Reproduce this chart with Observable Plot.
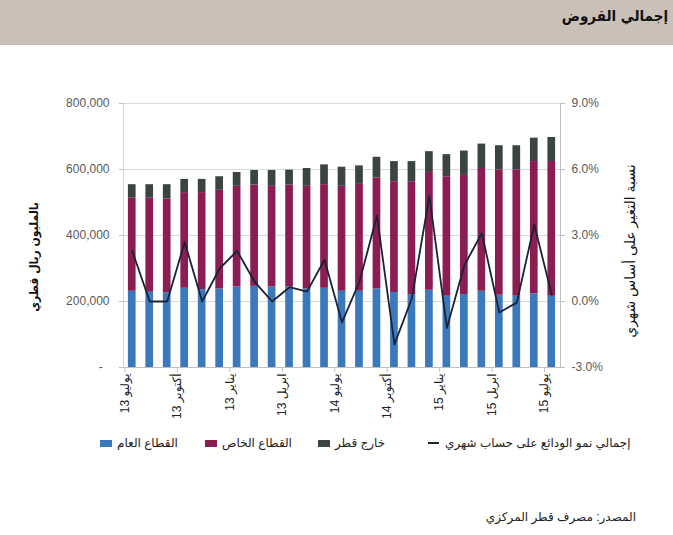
<!DOCTYPE html>
<html><head><meta charset="utf-8">
<script src="https://cdn.jsdelivr.net/npm/d3@7"></script>
<script src="https://cdn.jsdelivr.net/npm/@observablehq/plot@0.6"></script>
<style>
body{margin:0;background:#fff;font-family:"Liberation Sans",Arial,"DejaVu Sans",sans-serif;}
#page{position:relative;width:673px;height:535px;overflow:hidden;background:#fff;}
#banner{position:absolute;left:0;top:0;width:673px;height:45px;background:#c9c0b8;}
#title{position:absolute;right:5px;top:7px;font-weight:bold;font-size:15px;color:#111;direction:rtl;white-space:nowrap;font-family:'DejaVu Sans Condensed','DejaVu Sans',sans-serif;}
#chart{position:absolute;left:0;top:45px;}
.ytitle{position:absolute;white-space:nowrap;transform:translate(-50%,-50%) rotate(-90deg);direction:rtl;color:#111;}
.leg{position:absolute;top:436px;height:14px;display:flex;align-items:center;font-size:12px;color:#222;white-space:nowrap;}
.sw{display:inline-block;width:12px;height:7px;margin-right:5px;}
.ln{display:inline-block;width:11px;height:2px;margin-right:6px;}
#source{position:absolute;right:37px;top:510px;font-size:12px;color:#222;direction:rtl;white-space:nowrap;}
</style>
</head><body>
<div id="page">
  <div id="banner"><div id="title"></div></div>
  <div id="chart"></div>
  <div id="ytl" class="ytitle" style="left:34px;top:257px;font-size:12px;font-weight:bold;font-family:'DejaVu Sans Condensed','DejaVu Sans',sans-serif;"></div>
  <div id="ytr" class="ytitle" style="left:630px;top:251px;font-size:14px;"></div>
  <div id="legend"></div>
  <div id="source"></div>
</div>
<script>
// ---- data ----
const months = ["2013-07","2013-08","2013-09","2013-10","2013-11","2013-12","2014-01","2014-02","2014-03","2014-04","2014-05","2014-06","2014-07","2014-08","2014-09","2014-10","2014-11","2014-12","2015-01","2015-02","2015-03","2015-04","2015-05","2015-06","2015-07"];
const publicSector  = [231000,228000,226000,240000,236000,238000,244000,246000,244000,244000,238000,240000,231000,231000,238000,227000,221000,234000,216000,221000,231000,219000,216000,223000,216000];
const privateSector = [282000,285000,285000,290000,294000,299000,305000,307000,305000,309000,311000,314000,318000,324000,336000,336000,342000,357000,362000,361000,372000,380000,383000,401000,408000];
const outsideQatar  = [41000,41000,43000,40000,40000,41000,42000,44000,48000,45000,54000,60000,58000,56000,63000,61000,61000,63000,67000,74000,74000,73000,73000,71000,73000];
const depositGrowth = [2.3,0.0,0.0,2.7,0.0,1.5,2.3,0.9,0.0,0.65,0.45,1.9,-0.95,0.9,3.9,-1.95,0.15,4.8,-1.2,1.65,3.1,-0.5,-0.05,3.5,0.3];

const sectorNames = ["القطاع العام","القطاع الخاص","خارج قطر"];
const sectorColors = ["#3a79bb","#8a1d52","#3c4441"];
const lineName = "إجمالي نمو الودائع على حساب شهري";
const lineColor = "#1c2236";

const tickKeys   = ["2013-07","2013-10","2014-01","2014-04","2014-07","2014-10","2015-01","2015-04","2015-07"];
const tickMonths = ["يوليو","أكتوبر","يناير","ابريل","يوليو","أكتوبر","يناير","ابريل","يوليو"];
const tickYears  = ["13","13","13","13","14","14","15","15","15"];
const leftTicks  = [0,200000,400000,600000,800000];
const rightTicks = [-3,0,3,6,9];

const titleText = "إجمالي القروض";
const leftTitle = "بالمليون ريال قطري";
const rightTitle = "نسبة التغير على أساس شهري";
const sourceText = "المصدر: مصرف قطر المركزي";

// ---- build ----
const series = [publicSector, privateSector, outsideQatar];
const rows = [];
months.forEach((m, i) => series.forEach((s, k) => rows.push({month: m, sector: sectorNames[k], value: s[i]})));
const lineRows = months.map((m, i) => ({month: m, growth: depositGrowth[i]}));

const yMax = 800000, pMin = -3, pMax = 9;
const toLeft = p => (p - pMin) / (pMax - pMin) * yMax;
const fromLeft = v => v / yMax * (pMax - pMin) + pMin;

const W = 673, mL = 123, mR = 113;
const step = (W - mL - mR) / months.length;
const xLabel = d => { const i = tickKeys.indexOf(d); return tickYears[i] + " " + tickMonths[i]; };

const font = '"Liberation Sans",Arial,"DejaVu Sans",sans-serif';
const chart = Plot.plot({
  width: W, height: 385,
  marginTop: 58, marginBottom: 63, marginLeft: mL, marginRight: mR,
  style: {fontFamily: font, fontSize: "12px", color: "#595959", background: "transparent", overflow: "visible"},
  x: {domain: months, paddingInner: 0.56, paddingOuter: 0.28, round: false, axis: null},
  y: {domain: [0, yMax], axis: null},
  color: {domain: sectorNames, range: sectorColors},
  marks: [
    Plot.gridY(leftTicks.filter(d => d > 0), {stroke: "#d9d9d9", strokeOpacity: 1}),
    Plot.barY(rows, {x: "month", y: "value", fill: "sector"}),
    Plot.ruleY([0], {stroke: "#bfbfbf"}),
    Plot.frame({anchor: "left", stroke: "#d4d4d4"}),
    Plot.frame({anchor: "right", stroke: "#bfbfbf"}),
    Plot.line(lineRows, {x: "month", y: d => toLeft(d.growth), stroke: lineColor, strokeWidth: 1.8}),
    Plot.axisY(leftTicks, {anchor: "left", label: null, tickSize: 4, tickPadding: 10, stroke: "#bfbfbf", fill: "#595959",
      tickFormat: d => d === 0 ? "-\u00a0\u00a0" : d3.format(",")(d)}),
    Plot.axisY(rightTicks.map(toLeft), {anchor: "right", label: null, tickSize: 4, tickPadding: 7, stroke: "#bfbfbf", fill: "#595959",
      tickFormat: d => (Math.round(fromLeft(d) * 10) / 10).toFixed(1) + "%"}),
    Plot.axisX(tickKeys, {anchor: "bottom", label: null, tickSize: 5, dx: -step / 2 + 1.5, stroke: "#bfbfbf",
      tickFormat: () => ""}),
    Plot.axisX(tickKeys, {anchor: "bottom", label: null, tickSize: 0, tickPadding: 6, tickRotate: -90, dx: -step / 2 + 1.5,
      fill: "#222", fontSize: 12, tickFormat: xLabel})
  ]
});
document.getElementById("chart").appendChild(chart);

document.getElementById("title").textContent = titleText;
document.getElementById("ytl").textContent = leftTitle;
document.getElementById("ytr").textContent = rightTitle;
document.getElementById("source").textContent = sourceText;

const legend = document.getElementById("legend");
const legLefts = [100, 205, 318, 428];
sectorNames.forEach((n, k) => {
  const d = document.createElement("div");
  d.className = "leg"; d.style.left = legLefts[k] + "px";
  d.innerHTML = `<span class="sw" style="background:${sectorColors[k]}"></span><span dir="rtl">${n}</span>`;
  legend.appendChild(d);
});
{
  const d = document.createElement("div");
  d.className = "leg"; d.style.left = legLefts[3] + "px";
  d.innerHTML = `<span class="ln" style="background:${lineColor}"></span><span dir="rtl">${lineName}</span>`;
  legend.appendChild(d);
}
</script>
</body></html>
